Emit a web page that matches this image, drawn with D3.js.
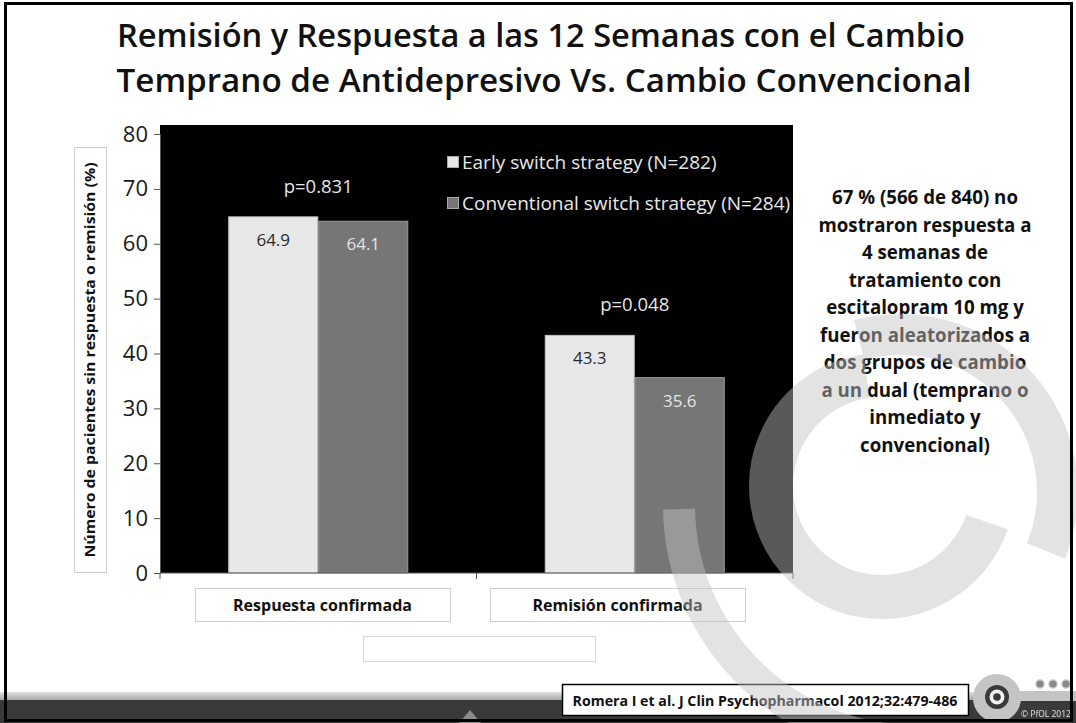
<!DOCTYPE html>
<html><head><meta charset="utf-8">
<script src="https://cdn.jsdelivr.net/npm/d3@7"></script>
<style>body{margin:0;background:#fff}svg{display:block}</style>
</head><body><svg id="c" width="1076" height="723"></svg>
<script>
// ---------- data ----------
const titleLines = ["Remisión y Respuesta a las 12 Semanas con el Cambio",
                    "Temprano de Antidepresivo Vs. Cambio Convencional"];
const categories = ["Respuesta confirmada", "Remisión confirmada"];
const seriesNames = ["Early switch strategy (N=282)", "Conventional switch strategy (N=284)"];
const earlySwitch = [64.9, 43.3];
const conventionalSwitch = [64.1, 35.6];
const pLabels = ["p=0.831", "p=0.048"];
const yTicks = [0, 10, 20, 30, 40, 50, 60, 70, 80];
const yLabel = "Número de pacientes sin respuesta o remisión (%)";
const noteLines = ["67 % (566 de 840) no", "mostraron respuesta a", "4 semanas de",
  "tratamiento con", "escitalopram 10 mg y", "fueron aleatorizados a",
  "dos grupos de cambio", "a un dual (temprano o", "inmediato y", "convencional)"];
const citation = "Romera I et al. J Clin Psychopharmacol 2012;32:479-486";
const copyright = "© PfOL 2012";

// ---------- setup ----------
const svg = d3.select("#c");
const W = 1076, H = 723;
const FONT = "'Open Sans', 'DejaVu Sans', sans-serif";
const series = [
  {name: seriesNames[0], values: earlySwitch, fill: "#e8e8e8", stroke: "#c4c4c4", label: "#2a2a2a"},
  {name: seriesNames[1], values: conventionalSwitch, fill: "#767676", stroke: "#9a9a9a", label: "#e4e4e4"}
];

svg.append("rect").attr("width", W).attr("height", H).attr("fill", "#fff");

// title
svg.append("g").selectAll("text").data(titleLines).join("text")
  .attr("x", (d, i) => i ? 544 : 541).attr("y", (d, i) => 47 + i * 45)
  .attr("text-anchor", "middle").attr("font-family", FONT)
  .attr("font-size", 33).attr("font-weight", 600).attr("fill", "#111")
  .attr("textLength", (d, i) => i ? 855 : 848).attr("lengthAdjust", "spacingAndGlyphs")
  .text(d => d);

// scales
const plotL = 160, plotR = 793, plotB = 573;
const y = d3.scaleLinear().domain([0, 80]).range([plotB, 134]);
const x = d3.scaleBand().domain(categories).range([plotL, plotR]);
const xs = d3.scaleBand().domain(series.map(s => s.name)).range([0, x.bandwidth()]).paddingOuter(0.758);

// plot background
svg.append("rect").attr("x", plotL).attr("y", y(80) - 9)
  .attr("width", plotR - plotL).attr("height", plotB - y(80) + 9).attr("fill", "#000");

// bars
const groups = svg.append("g").selectAll("g").data(categories).join("g")
  .attr("transform", d => `translate(${x(d)},0)`);
groups.selectAll("rect").data((c, ci) => series.map(s => ({s, v: s.values[ci]}))).join("rect")
  .attr("x", d => xs(d.s.name) + 0.5).attr("width", xs.bandwidth() - 1)
  .attr("y", d => y(d.v)).attr("height", d => plotB - y(d.v))
  .attr("fill", d => d.s.fill).attr("stroke", d => d.s.stroke).attr("stroke-width", 1);
groups.selectAll("text.val").data((c, ci) => series.map(s => ({s, v: s.values[ci]}))).join("text")
  .attr("class", "val")
  .attr("x", d => xs(d.s.name) + xs.bandwidth() / 2).attr("y", d => y(d.v) + 29)
  .attr("text-anchor", "middle").attr("font-family", FONT).attr("font-size", 17)
  .attr("fill", d => d.s.label).text(d => d.v.toFixed(1));
groups.append("text")
  .attr("x", x.bandwidth() / 2).attr("y", (c, ci) => y(Math.max(earlySwitch[ci], conventionalSwitch[ci])) - 24)
  .attr("text-anchor", "middle").attr("font-family", FONT).attr("font-size", 18.5)
  .attr("fill", "#e6e6e6").text((c, ci) => pLabels[ci]);

// y axis
const yAxis = svg.append("g").attr("transform", `translate(${plotL},0)`)
  .call(d3.axisLeft(y).tickValues(yTicks).tickSize(6).tickPadding(6));
yAxis.select(".domain").attr("stroke", "#555");
yAxis.selectAll(".tick line").attr("stroke", "#555");
yAxis.selectAll(".tick text").attr("font-family", FONT).attr("font-size", 22).attr("fill", "#1a1a1a");

// x axis (category boundaries)
const xb = categories.map(c => x(c)).concat([plotR]);
svg.append("line").attr("x1", plotL).attr("x2", plotR).attr("y1", plotB).attr("y2", plotB)
  .attr("stroke", "#555");
svg.append("g").selectAll("line").data(xb).join("line")
  .attr("x1", d => d).attr("x2", d => d).attr("y1", plotB).attr("y2", plotB + 6)
  .attr("stroke", "#555");

// y label box
svg.append("rect").attr("x", 74.5).attr("y", 147.5).attr("width", 32).attr("height", 425)
  .attr("fill", "#fff").attr("stroke", "#cfcfcf");
svg.append("text").attr("transform", "translate(95,360) rotate(-90)")
  .attr("text-anchor", "middle").attr("font-family", FONT).attr("font-size", 13.5)
  .attr("font-weight", 700).attr("fill", "#111")
  .attr("textLength", 395).attr("lengthAdjust", "spacingAndGlyphs").text(yLabel);

// category label boxes (text boxes placed as on the slide)
const catBoxLeft = [195, 490], catBoxW = 255;
svg.append("g").selectAll("g").data(categories).join("g")
  .attr("transform", (d, i) => `translate(${catBoxLeft[i]},0)`)
  .call(g => {
    g.append("rect").attr("x", 0.5).attr("y", 588.5).attr("width", catBoxW).attr("height", 33)
      .attr("fill", "#fff").attr("stroke", "#cfcfcf");
    g.append("text").attr("x", catBoxW / 2).attr("y", 611).attr("text-anchor", "middle").attr("font-family", FONT)
      .attr("font-size", 16).attr("font-weight", 700).attr("fill", "#111").text(d => d);
  });
svg.append("rect").attr("x", 363.5).attr("y", 636.5).attr("width", 232).attr("height", 25)
  .attr("fill", "#fff").attr("stroke", "#d5d5d5");

// legend
const legend = svg.append("g").selectAll("g").data(series).join("g")
  .attr("transform", (d, i) => `translate(447,${156 + i * 41})`);
legend.append("rect").attr("x", 0.5).attr("y", 0.5).attr("width", 11).attr("height", 11)
  .attr("fill", d => d.fill).attr("stroke", "#aaa");
legend.append("text").attr("x", 15).attr("y", 12.5).attr("font-family", FONT).attr("font-size", 19)
  .attr("fill", "#e8e8e8").text(d => d.name);

// note text
svg.append("g").selectAll("text").data(noteLines).join("text")
  .attr("x", 925).attr("y", (d, i) => 204 + i * 27.5)
  .attr("text-anchor", "middle").attr("font-family", FONT).attr("font-size", 18.7)
  .attr("font-weight", 700).attr("fill", "#111").text(d => d);

// footer
const grad = svg.append("defs").append("linearGradient").attr("id", "fg")
  .attr("x1", 0).attr("x2", 0).attr("y1", 0).attr("y2", 1);
grad.append("stop").attr("offset", 0).attr("stop-color", "#e2e2e2");
grad.append("stop").attr("offset", 1).attr("stop-color", "#a8a8a8");
svg.append("rect").attr("x", 0).attr("y", 692).attr("width", W).attr("height", 8).attr("fill", "url(#fg)");
svg.append("rect").attr("x", 0).attr("y", 700).attr("width", W).attr("height", 23).attr("fill", "#3a3a3a");
svg.append("path").attr("d", "M459,723 L470,710 L481,723 Z").attr("fill", "#8a8a8a");

// citation
svg.append("rect").attr("x", 562.5).attr("y", 684.5).attr("width", 406).attr("height", 31)
  .attr("fill", "#fff").attr("stroke", "#000").attr("stroke-width", 1.5);
svg.append("text").attr("x", 765).attr("y", 705.5).attr("text-anchor", "middle")
  .attr("font-family", FONT).attr("font-size", 14.2).attr("font-weight", 700).attr("fill", "#111")
  .text(citation);

// decorative translucent rings
const deg = Math.PI / 180;
const rings = [
  {cx: 900, cy: 492, r0: 137, r1: 178, a0: -15, a1: 112},
  {cx: 882, cy: 486, r0: 89, r1: 133, a0: -251, a1: -8},
  {cx: 915, cy: 505, r0: 220, r1: 252, a0: -180, a1: -91}
];
const arc = d3.arc();
svg.append("g").attr("opacity", 0.46).selectAll("path").data(rings).join("path")
  .attr("transform", d => `translate(${d.cx},${d.cy})`)
  .attr("d", d => arc({innerRadius: d.r0, outerRadius: d.r1, startAngle: d.a0 * deg, endAngle: d.a1 * deg}))
  .attr("fill", "#c2c2c2");

// logo
svg.append("rect").attr("x", 997).attr("y", 691).attr("width", 79).attr("height", 10).attr("fill", "#c4c4c4");
svg.append("circle").attr("cx", 997).attr("cy", 698).attr("r", 24).attr("fill", "#c4c4c4");
svg.append("circle").attr("cx", 997).attr("cy", 697).attr("r", 12).attr("fill", "#3a3a3a");
svg.append("circle").attr("cx", 997).attr("cy", 697).attr("r", 7.5).attr("fill", "#f2f2f2");
svg.append("circle").attr("cx", 997).attr("cy", 697).attr("r", 3.8).attr("fill", "#3a3a3a");
svg.append("g").selectAll("circle").data([1040, 1053, 1066]).join("circle")
  .attr("cx", d => d).attr("cy", 684).attr("r", 4.2).attr("fill", "#8a8a8a")
  .attr("stroke", "#d0d0d0").attr("stroke-width", 1.2);
svg.append("text").attr("x", 1021).attr("y", 717).attr("font-family", FONT).attr("font-size", 8.5)
  .attr("fill", "#e0e0e0").text(copyright);

// frame
svg.append("rect").attr("x", 5.5).attr("y", 3.5).attr("width", 1066).attr("height", 717)
  .attr("fill", "none").attr("stroke", "#000").attr("stroke-width", 3);
</script></body></html>
